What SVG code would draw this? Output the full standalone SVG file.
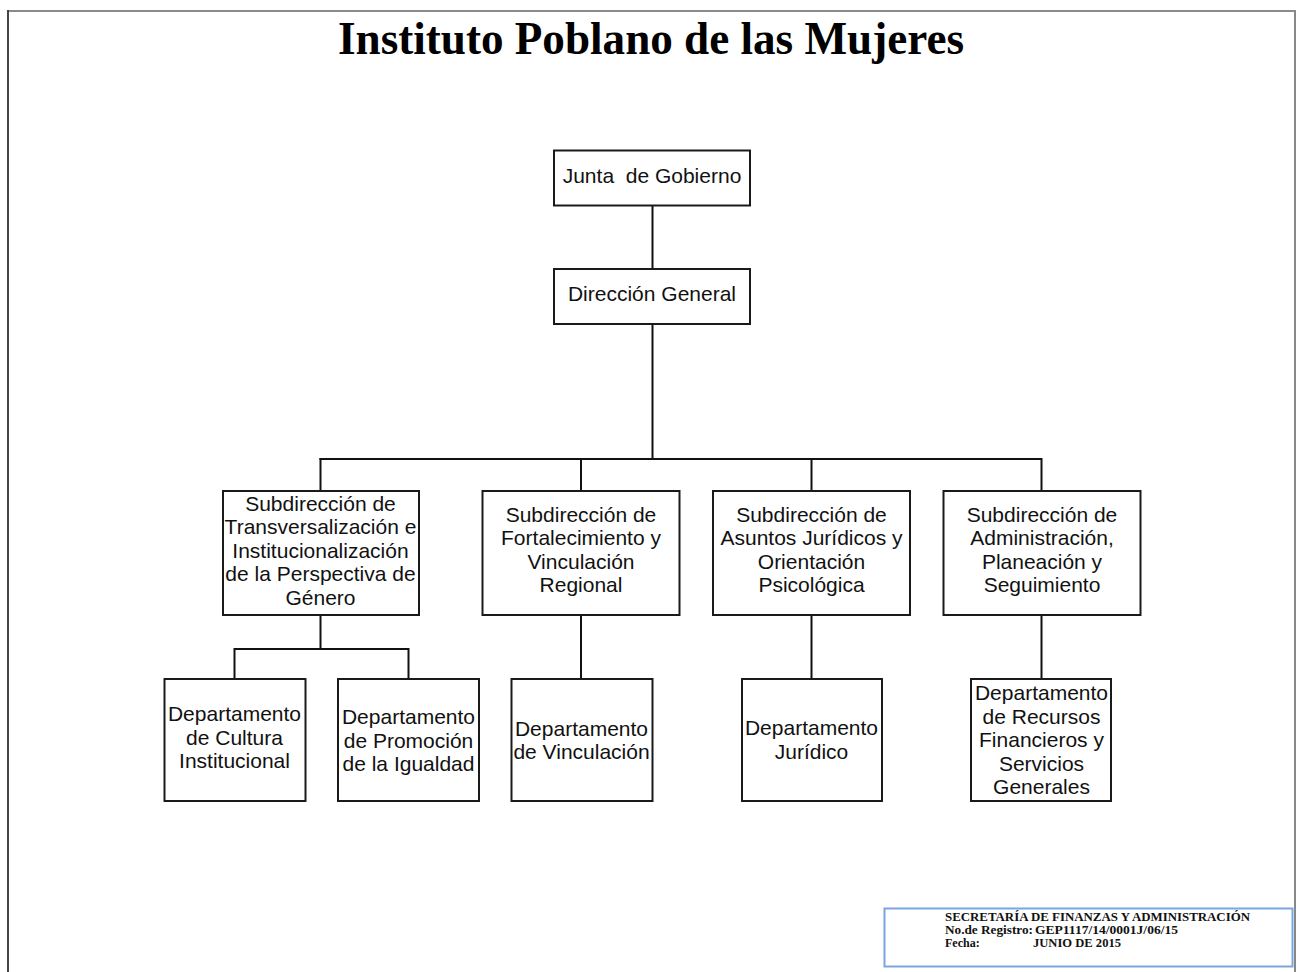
<svg xmlns="http://www.w3.org/2000/svg" width="1297" height="972" viewBox="0 0 1297 972">
<style>
.box{fill:#fff;stroke:#1a1a1a;stroke-width:2}
.t{font-family:"Liberation Sans",Arial,sans-serif;font-size:21px;fill:#111;text-anchor:middle;white-space:pre}
.c{stroke:#111;stroke-width:2;fill:none}
.f{font-family:"Liberation Serif","Times New Roman",serif;font-size:12px;font-weight:bold;fill:#111}
</style>
<rect width="1297" height="972" fill="#fff"/>
<g id="page-border">
<line x1="8" y1="11" x2="1295" y2="11" stroke="#8a8a8a" stroke-width="2"/>
<line x1="8" y1="10" x2="8" y2="972" stroke="#444" stroke-width="2"/>
<line x1="1295" y1="10" x2="1295" y2="972" stroke="#888" stroke-width="2"/>
</g>
<text x="651" y="54" font-family="Liberation Serif,'Times New Roman',serif" font-size="46" font-weight="bold" text-anchor="middle" fill="#000" textLength="626" lengthAdjust="spacingAndGlyphs">Instituto Poblano de las Mujeres</text>
<g id="connectors">
<line class="c" x1="652.5" y1="206" x2="652.5" y2="269"/>
<line class="c" x1="652.5" y1="324" x2="652.5" y2="459"/>
<line class="c" x1="319.5" y1="459" x2="1042" y2="459"/>
<line class="c" x1="320.5" y1="458" x2="320.5" y2="491"/>
<line class="c" x1="581" y1="459" x2="581" y2="491"/>
<line class="c" x1="811.5" y1="459" x2="811.5" y2="491"/>
<line class="c" x1="1041.5" y1="458" x2="1041.5" y2="491"/>
<line class="c" x1="320.5" y1="615" x2="320.5" y2="649"/>
<line class="c" x1="234.5" y1="649" x2="408.5" y2="649"/>
<line class="c" x1="234.5" y1="648" x2="234.5" y2="679"/>
<line class="c" x1="408.5" y1="648" x2="408.5" y2="679"/>
<line class="c" x1="581" y1="615" x2="581" y2="679"/>
<line class="c" x1="811.5" y1="615" x2="811.5" y2="679"/>
<line class="c" x1="1041.5" y1="615" x2="1041.5" y2="679"/>
</g>
<g id="junta">
<rect class="box" x="554" y="150.5" width="196" height="55"/>
<text class="t" x="652" y="183">Junta  de Gobierno</text>
</g>
<g id="direccion">
<rect class="box" x="554" y="269" width="196" height="55"/>
<text class="t" x="652" y="301">Dirección General</text>
</g>
<g id="sub-transversalizacion">
<rect class="box" x="223" y="491" width="196" height="124"/>
<text class="t" x="320.5" y="510.5">Subdirección de</text>
<text class="t" x="320.5" y="534">Transversalización e</text>
<text class="t" x="320.5" y="557.5">Institucionalización</text>
<text class="t" x="320.5" y="581">de la Perspectiva de</text>
<text class="t" x="320.5" y="604.5">Género</text>
</g>
<g id="sub-fortalecimiento">
<rect class="box" x="482.5" y="491" width="197" height="124"/>
<text class="t" x="581" y="521.5">Subdirección de</text>
<text class="t" x="581" y="545">Fortalecimiento y</text>
<text class="t" x="581" y="568.5">Vinculación</text>
<text class="t" x="581" y="592">Regional</text>
</g>
<g id="sub-juridicos">
<rect class="box" x="713" y="491" width="197" height="124"/>
<text class="t" x="811.5" y="521.5">Subdirección de</text>
<text class="t" x="811.5" y="545">Asuntos Jurídicos y</text>
<text class="t" x="811.5" y="568.5">Orientación</text>
<text class="t" x="811.5" y="592">Psicológica</text>
</g>
<g id="sub-administracion">
<rect class="box" x="943.5" y="491" width="197" height="124"/>
<text class="t" x="1042" y="521.5">Subdirección de</text>
<text class="t" x="1042" y="545">Administración,</text>
<text class="t" x="1042" y="568.5">Planeación y</text>
<text class="t" x="1042" y="592">Seguimiento</text>
</g>
<g id="dep-cultura">
<rect class="box" x="164.5" y="679" width="141" height="122"/>
<text class="t" x="234.5" y="721">Departamento</text>
<text class="t" x="234.5" y="744.5">de Cultura</text>
<text class="t" x="234.5" y="768">Institucional</text>
</g>
<g id="dep-promocion">
<rect class="box" x="338" y="679" width="141" height="122"/>
<text class="t" x="408.5" y="724">Departamento</text>
<text class="t" x="408.5" y="747.5">de Promoción</text>
<text class="t" x="408.5" y="771">de la Igualdad</text>
</g>
<g id="dep-vinculacion">
<rect class="box" x="511.5" y="679" width="141" height="122"/>
<text class="t" x="581.5" y="735.5">Departamento</text>
<text class="t" x="581.5" y="759">de Vinculación</text>
</g>
<g id="dep-juridico">
<rect class="box" x="742" y="679" width="140" height="122"/>
<text class="t" x="811.5" y="735">Departamento</text>
<text class="t" x="811.5" y="758.5">Jurídico</text>
</g>
<g id="dep-recursos">
<rect class="box" x="971" y="679" width="140" height="122"/>
<text class="t" x="1041.5" y="700">Departamento</text>
<text class="t" x="1041.5" y="723.5">de Recursos</text>
<text class="t" x="1041.5" y="747">Financieros y</text>
<text class="t" x="1041.5" y="770.5">Servicios</text>
<text class="t" x="1041.5" y="794">Generales</text>
</g>
<g id="footer">
<rect x="884.5" y="908.5" width="408" height="58" fill="#fff" stroke="#7aa6dd" stroke-width="2"/>
<text class="f" x="945" y="920.5" textLength="305" lengthAdjust="spacingAndGlyphs">SECRETARÍA DE FINANZAS Y ADMINISTRACIÓN</text>
<text class="f" x="945" y="934" textLength="88" lengthAdjust="spacingAndGlyphs">No.de Registro:</text>
<text class="f" x="1035" y="934" textLength="143" lengthAdjust="spacingAndGlyphs">GEP1117/14/0001J/06/15</text>
<text class="f" x="945" y="946.5">Fecha:</text>
<text class="f" x="1033" y="946.5" textLength="88" lengthAdjust="spacingAndGlyphs">JUNIO DE 2015</text>
</g>
</svg>
